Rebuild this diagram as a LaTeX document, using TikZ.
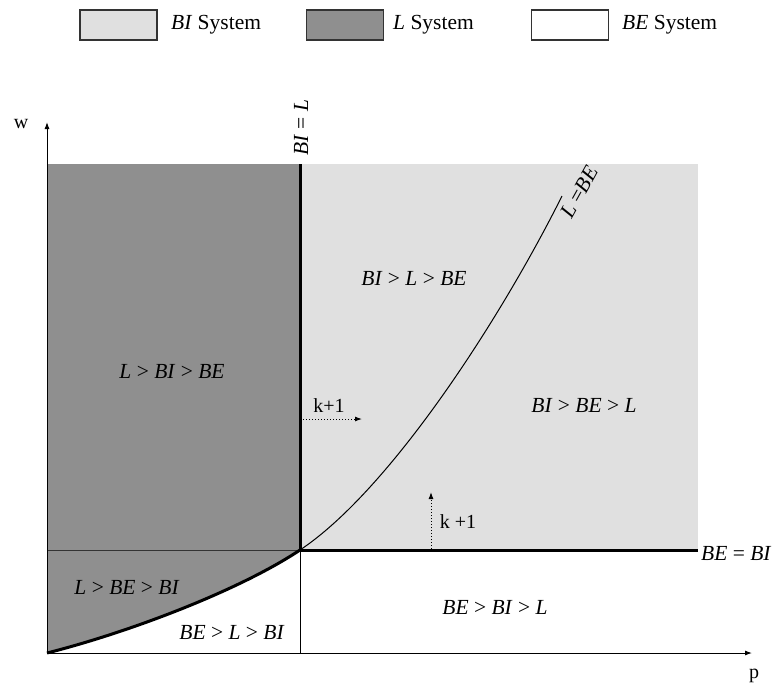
\documentclass[tikz,border=0pt]{standalone}
\usepackage{fontspec}
\setmainfont{Liberation Serif}
\usetikzlibrary{arrows.meta}
\definecolor{lightg}{HTML}{E0E0E0}
\definecolor{darkg}{HTML}{8F8F8F}
\begin{document}
\begin{tikzpicture}[x=1pt,y=-1pt,
  lbl/.style={font=\fontsize{21.5}{24}\selectfont, inner sep=0pt},
  klbl/.style={font=\fontsize{20}{22}\selectfont, inner sep=0pt},
  legbox/.style={draw=black!80, line width=1.2pt, minimum width=77pt, minimum height=30pt, inner sep=0pt},
  border/.style={line width=3pt},
  axis/.style={line width=1pt, -{Latex[length=7pt,width=5pt]}},
  karrow/.style={dotted, line width=1pt, -{Latex[length=7pt,width=5pt]}}]
\useasboundingbox (0,0) rectangle (775,686);
% coordinates
\coordinate (O) at (47,653);
\coordinate (W) at (47,122);
\coordinate (P) at (752,653);
\coordinate (X) at (300,550);
\coordinate (T) at (300,164);
\coordinate (R) at (698,550);
\coordinate (B) at (300,653);
\coordinate (Lend) at (47,550);
\coordinate (C) at (562,196);
% regions
\fill[lightg] (T) rectangle (R);
\fill[darkg] (47,164) rectangle (X);
\fill[darkg] (O) .. controls (130,632) and (240,590) .. (X) -- (Lend) -- cycle;
\draw[line width=0.8pt, black!80] (Lend) -- (X);
\draw[line width=0.8pt] (X) -- (B);
\draw[border] (T) -- (X);
\draw[border] (X) -- (R);
\draw[border] (O) .. controls (130,632) and (240,590) .. (X);
\draw[line width=1pt] (X) .. controls (390,490) and (500,320) .. (C);
% axes
\draw[axis] (O) -- (W);
\draw[axis] (O) -- (P);
\node[klbl] (w) at (21,124) {w};
\node[klbl] (p) at (754,676) {p};
% boundary labels
\node[lbl, rotate=90] (bil) at (301,128) {\textit{BI} = \textit{L}};
\node[lbl, rotate=61] (lbe) at (579,192) {\textit{L} =\textit{BE}};
\node[lbl, anchor=west] (bebi) at (701,553) {\textit{BE} = \textit{BI}};
% region labels
\node[lbl] (r1) at (172,371) {\textit{L} > \textit{BI} > \textit{BE}};
\node[lbl] (r2) at (414,278) {\textit{BI} > \textit{L} > \textit{BE}};
\node[lbl] (r3) at (584,405) {\textit{BI} > \textit{BE} > \textit{L}};
\node[lbl] (r4) at (127,587) {\textit{L} > \textit{BE} > \textit{BI}};
\node[lbl] (r5) at (232,632) {\textit{BE} > \textit{L} > \textit{BI}};
\node[lbl] (r6) at (495,607) {\textit{BE} > \textit{BI} > \textit{L}};
% k+1 arrows
\coordinate (h0) at (303,419);
\coordinate (h1) at (362,419);
\draw[karrow] (h0) -- (h1);
\node[klbl] (k1) at (329,406) {k+1};
\coordinate (v0) at (431,549);
\coordinate (v1) at (431,492);
\draw[karrow] (v0) -- (v1);
\node[klbl] (k2) at (458,522) {k +1};
% legend
\node[legbox, fill=lightg] (leg1) at (118.5,25) {};
\node[lbl, anchor=west] (leg1t) at (171,25) {\textit{BI} System};
\node[legbox, fill=darkg] (leg2) at (345,25) {};
\node[lbl, anchor=west] (leg2t) at (393,25) {\textit{L} System};
\node[legbox, fill=white] (leg3) at (570,25) {};
\node[lbl, anchor=west] (leg3t) at (622,25) {\textit{BE} System};
\end{tikzpicture}
\end{document}
